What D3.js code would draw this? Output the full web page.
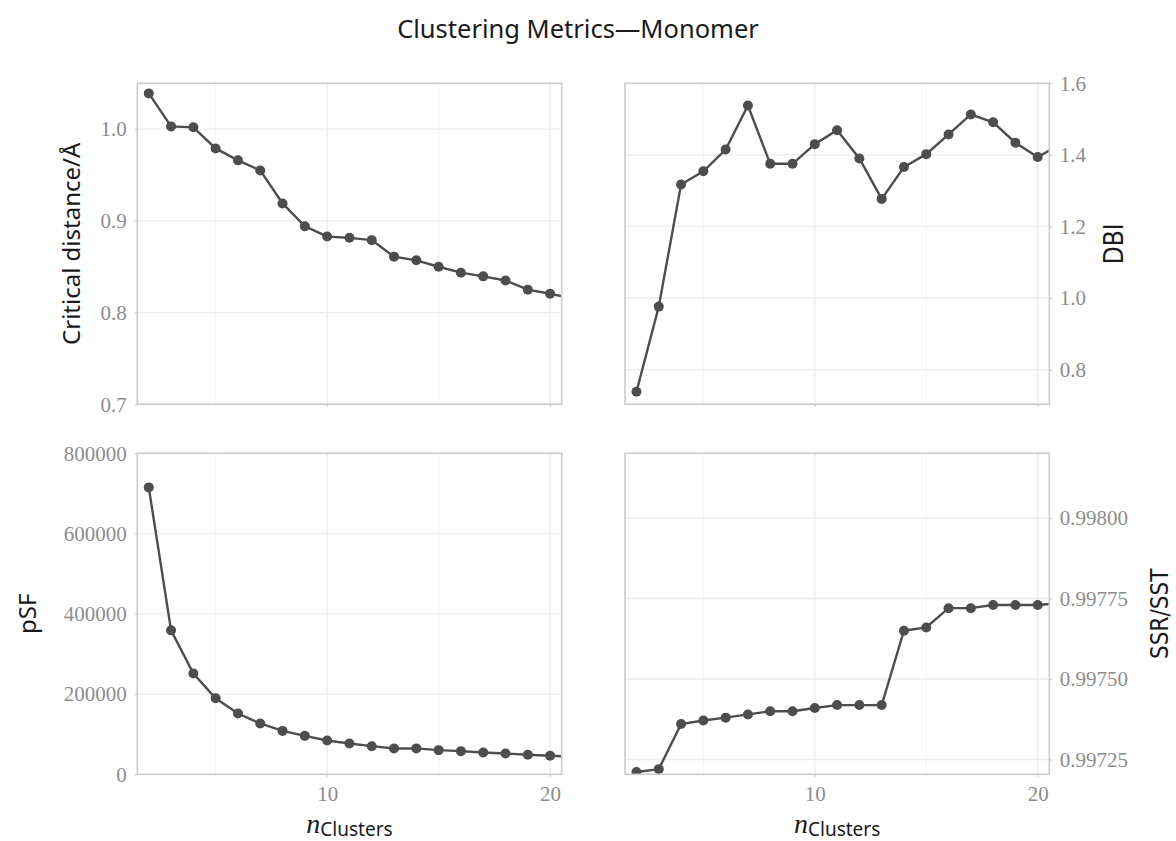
<!DOCTYPE html>
<html>
<head>
<meta charset="utf-8">
<script src="https://cdn.jsdelivr.net/npm/d3@7"></script>
<style>
  body { margin: 0; background: #fff; }
  svg { display: block; }
</style>
</head>
<body>
<svg id="chart" width="1176" height="841"></svg>
<script>
// n clusters (the 21st point sits just past the panel edge and gets clipped)
const nClusters = [2, 3, 4, 5, 6, 7, 8, 9, 10, 11, 12, 13, 14, 15, 16, 17, 18, 19, 20, 21];

const criticalDistance = [1.039, 1.003, 1.002, 0.979, 0.966, 0.955, 0.919, 0.894, 0.883, 0.8815,
  0.879, 0.861, 0.857, 0.850, 0.8435, 0.8395, 0.835, 0.825, 0.8205, 0.8155];
const dbi = [0.738, 0.976, 1.317, 1.354, 1.415, 1.538, 1.375, 1.375, 1.430, 1.469,
  1.390, 1.277, 1.366, 1.402, 1.457, 1.513, 1.491, 1.434, 1.394, 1.429];
const pSF = [715000, 358700, 251000, 189500, 151500, 126600, 108200, 95800, 84300, 76800,
  70100, 64400, 64600, 60200, 57700, 54500, 52000, 48600, 46100, 44000];
const ssrSst = [0.997211, 0.997220, 0.997360, 0.997371, 0.997380, 0.997390, 0.997400, 0.997400, 0.997410, 0.997419,
  0.997419, 0.997419, 0.997650, 0.997660, 0.997720, 0.997720, 0.997730, 0.997730, 0.997730, 0.997735];

const xDomain = [1.485, 20.52];
const xMajor = [10, 20];
const xMinor = [5, 15];

const cdTicks = [0.7, 0.8, 0.9, 1.0];
const dbiTicks = [0.8, 1.0, 1.2, 1.4, 1.6];
const psfTicks = [0, 200000, 400000, 600000, 800000];
const ssrTicks = [0.99725, 0.99750, 0.99775, 0.99800];

const title = "Clustering Metrics\u2014Monomer";

const ink = "#4d4d4d";
const gridColor = "#ebebeb";
const minorColor = "#f3f3f3";
const borderColor = "#cccccc";
const tickText = "#8c8c8c";
const serif = "'Liberation Serif', 'Times New Roman', serif";
const sans = "'Noto Sans', 'Open Sans', sans-serif";
const narrow = "'DejaVu Sans', sans-serif";

const svg = d3.select("#chart");

const colL = [137.3, 561.7];
const colR = [625, 1049.3];
const rowT = [83.3, 404.3];
const rowB = [453.3, 774.3];

const panels = [
  { id: "cd", values: criticalDistance, ticks: cdTicks, yDomain: [0.7, 1.05], fmt: d3.format(".1f"),
    xr: colL, yr: rowT, side: "left", bottom: false, label: "Critical distance/\u00c5", titleX: 80 },
  { id: "dbi", values: dbi, ticks: dbiTicks, yDomain: [0.703, 1.6], fmt: d3.format(".1f"),
    xr: colR, yr: rowT, side: "right", bottom: false, label: "DBI", titleX: 1123 },
  { id: "psf", values: pSF, ticks: psfTicks, yDomain: [0, 800000], fmt: d => String(d),
    xr: colL, yr: rowB, side: "left", bottom: true, label: "pSF", titleX: 36 },
  { id: "ssr", values: ssrSst, ticks: ssrTicks, yDomain: [0.997204, 0.998201], fmt: d3.format(".5f"),
    xr: colR, yr: rowB, side: "right", bottom: true, label: "SSR/SST", titleX: 1168 }
];

// title
svg.append("text")
  .attr("x", 578)
  .attr("y", 38)
  .attr("text-anchor", "middle")
  .attr("font-family", sans)
  .attr("font-size", 25.5)
  .attr("fill", "#1a1a1a")
  .text(title);

panels.forEach(p => {
  const x = d3.scaleLinear().domain(xDomain).range(p.xr);
  const y = d3.scaleLinear().domain(p.yDomain).range([p.yr[1], p.yr[0]]);
  const w = p.xr[1] - p.xr[0];
  const h = p.yr[1] - p.yr[0];

  const g = svg.append("g");

  // minor vertical grid
  g.selectAll(".minor")
    .data(xMinor)
    .join("line")
    .attr("x1", d => x(d)).attr("x2", d => x(d))
    .attr("y1", p.yr[0]).attr("y2", p.yr[1])
    .attr("stroke", minorColor)
    .attr("stroke-width", 1);

  // major vertical grid
  g.selectAll(".vmajor")
    .data(xMajor)
    .join("line")
    .attr("x1", d => x(d)).attr("x2", d => x(d))
    .attr("y1", p.yr[0]).attr("y2", p.yr[1])
    .attr("stroke", gridColor)
    .attr("stroke-width", 1.3);

  // horizontal grid
  g.selectAll(".hmajor")
    .data(p.ticks.filter(t => y(t) > p.yr[0] + 1 && y(t) < p.yr[1] - 1))
    .join("line")
    .attr("x1", p.xr[0]).attr("x2", p.xr[1])
    .attr("y1", d => y(d)).attr("y2", d => y(d))
    .attr("stroke", gridColor)
    .attr("stroke-width", 1.3);

  // data
  const clipId = "clip-" + p.id;
  svg.append("clipPath").attr("id", clipId)
    .append("rect")
    .attr("x", p.xr[0]).attr("y", p.yr[0])
    .attr("width", w).attr("height", h);

  const data = nClusters.map((n, i) => ({ n, v: p.values[i] }));
  const plot = g.append("g").attr("clip-path", `url(#${clipId})`);

  plot.append("path")
    .datum(data)
    .attr("fill", "none")
    .attr("stroke", ink)
    .attr("stroke-width", 2.4)
    .attr("d", d3.line().x(d => x(d.n)).y(d => y(d.v)));

  plot.selectAll("circle")
    .data(data)
    .join("circle")
    .attr("cx", d => x(d.n))
    .attr("cy", d => y(d.v))
    .attr("r", 5)
    .attr("fill", ink);

  // panel border
  g.append("rect")
    .attr("x", p.xr[0]).attr("y", p.yr[0])
    .attr("width", w).attr("height", h)
    .attr("fill", "none")
    .attr("stroke", borderColor)
    .attr("stroke-width", 1.6);

  // y axis
  const yAxis = (p.side === "left" ? d3.axisLeft(y) : d3.axisRight(y))
    .tickValues(p.ticks)
    .tickFormat(p.fmt)
    .tickSize(2.5)
    .tickPadding(8);
  const ya = g.append("g")
    .attr("transform", `translate(${p.side === "left" ? p.xr[0] : p.xr[1]},0)`)
    .call(yAxis);
  ya.select(".domain").remove();
  ya.selectAll("line").attr("stroke", borderColor).attr("stroke-width", 1.3);
  ya.selectAll("text")
    .attr("fill", tickText)
    .attr("font-family", serif)
    .attr("font-size", 21);

  // x axis
  const xAxis = d3.axisBottom(x)
    .tickValues(xMajor)
    .tickFormat(p.bottom ? d3.format("d") : "")
    .tickSize(2.5)
    .tickPadding(9);
  const xa = g.append("g")
    .attr("transform", `translate(0,${p.yr[1]})`)
    .call(xAxis);
  xa.select(".domain").remove();
  xa.selectAll("line").attr("stroke", borderColor).attr("stroke-width", 1.3);
  xa.selectAll("text")
    .attr("fill", tickText)
    .attr("font-family", serif)
    .attr("font-size", 21);

  // y title
  const cy = (p.yr[0] + p.yr[1]) / 2;
  const yt = svg.append("text")
    .attr("transform", `translate(${p.titleX},${cy}) rotate(-90)`)
    .attr("text-anchor", "middle")
    .attr("fill", "#1a1a1a")
    .text(p.label);
  if (p.side === "left") {
    yt.attr("font-family", sans).attr("font-size", 24);
  } else {
    yt.attr("font-family", narrow)
      .attr("font-stretch", "condensed")
      .attr("font-size", p.id === "ssr" ? 24 : 26);
  }

  // x title: n with subscript "Clusters"
  if (p.bottom) {
    const t = svg.append("text")
      .attr("x", (p.xr[0] + p.xr[1]) / 2)
      .attr("y", 833)
      .attr("text-anchor", "middle")
      .attr("fill", "#1a1a1a");
    t.append("tspan")
      .attr("font-family", serif)
      .attr("font-style", "italic")
      .attr("font-size", 28)
      .text("n");
    t.append("tspan")
      .attr("font-family", sans)
      .attr("font-size", 19)
      .attr("dy", 3)
      .text("Clusters");
  }
});
</script>
</body>
</html>
